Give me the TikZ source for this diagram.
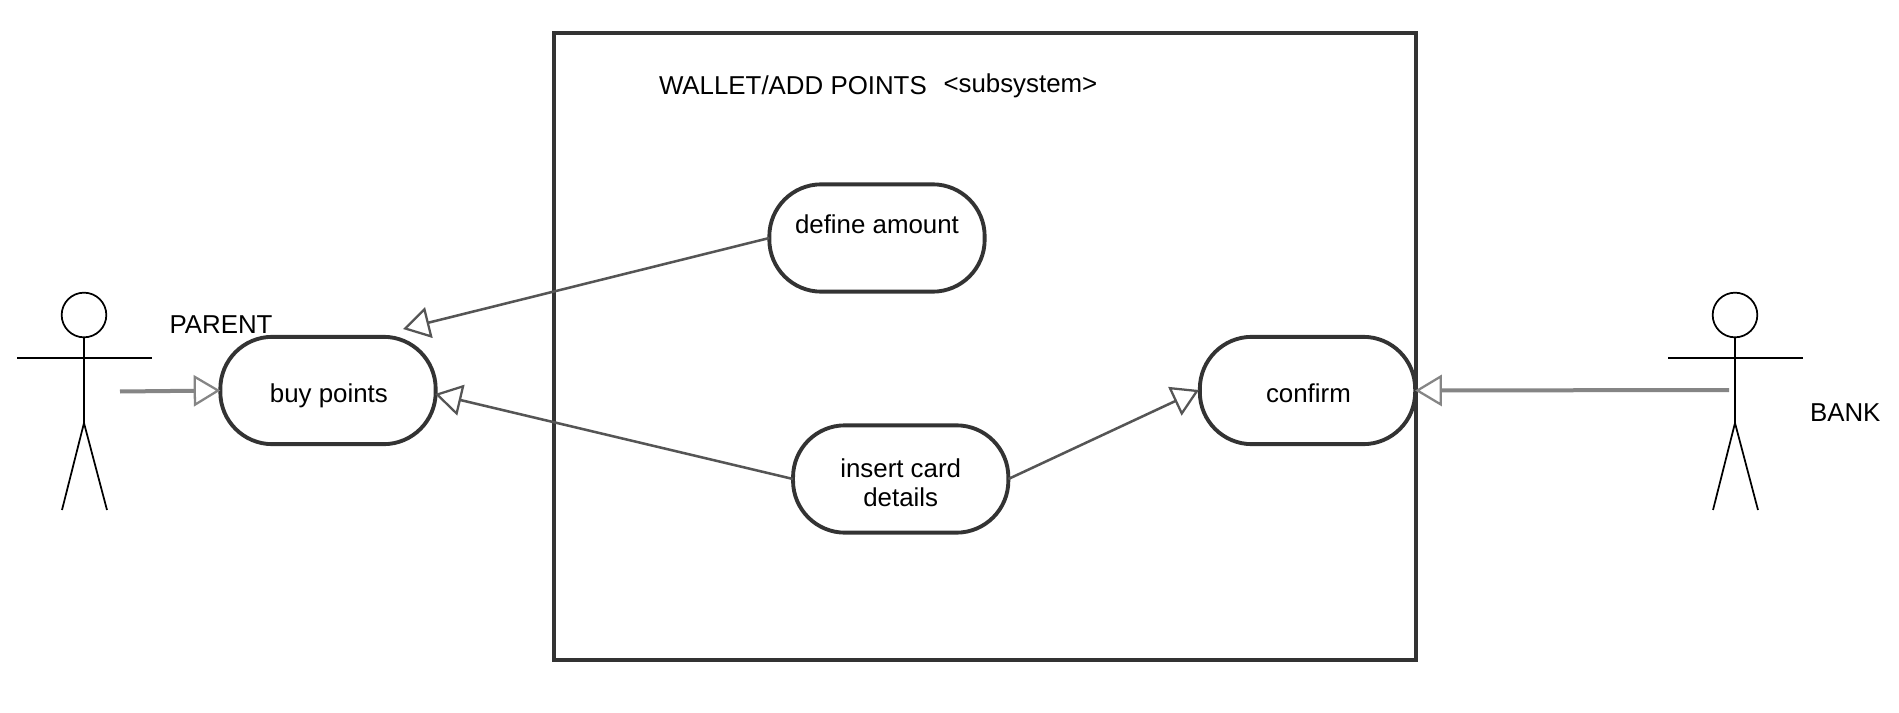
\documentclass[tikz,border=0pt]{standalone}
\usepackage{fontspec}
\setmainfont{Liberation Sans}
\usetikzlibrary{arrows.meta}
\definecolor{edge}{HTML}{333333}
\definecolor{thinline}{HTML}{555555}
\definecolor{thickline}{HTML}{858585}
\newcommand{\lifted}[2]{\raisebox{#1}[0pt][0pt]{\hspace*{1.4pt}#2}}
\tikzset{
  x=0.75pt,y=-0.75pt,
  txt/.style={font=\fontsize{19.4pt}{22pt}\selectfont,inner sep=0pt,outer sep=0pt,text=black},
  usecase/.style={txt,draw=edge,fill=white,line width=2.9pt,rounded corners=39pt,
    minimum width=161.5pt,minimum height=80.5pt,align=center},
  frame/.style={draw=edge,line width=2.9pt,inner sep=0pt,outer sep=0pt,
    minimum width=646.5pt,minimum height=470pt},
  actorline/.style={draw=black,line width=1.3pt},
  gen/.style={-{Triangle[open,fill=white,length=20pt,width=23.5pt,line width=1.7pt]},
    draw=thinline,line width=1.9pt},
  genthick/.style={gen,draw=thickline,line width=3pt},
  caption/.style={txt,anchor=base west}
}
\begin{document}
\begin{tikzpicture}
\useasboundingbox[fill=white] (0,0) rectangle (1899,713);
% system boundary
\node[frame] (sys) at (985,346.5) {};
\node[caption] (title) at (659,95) {WALLET/ADD POINTS};
\node[caption] (stereo) at (943.5,92.2) {<subsystem>};
% use cases
\node[usecase] (buy) at (328,390.5) {\lifted{-8.7pt}{buy points}};
\node[usecase] (define) at (877,238) {\raisebox{3.7pt}[0pt][0pt]{define amount}};
\node[usecase] (insert) at (900.7,479) {\rule{0pt}{19.4pt}insert card\\details};
\node[usecase] (confirm) at (1307.5,390.5) {\lifted{-9.2pt}{confirm}};
% actors
\node[draw=black,line width=1.3pt,circle,minimum size=33.5pt,inner sep=0pt,outer sep=0pt] (lefthead) at (84,315) {};
\coordinate (lefthip) at (84,423);
\draw[actorline] (lefthead.south) -- (lefthip);
\coordinate (leftarmA) at (17,358);
\coordinate (leftarmB) at (152,358);
\draw[actorline] (leftarmA) -- (leftarmB);
\coordinate (leftfootA) at (62,510);
\coordinate (leftfootB) at (107,510);
\draw[actorline] (leftfootA) -- (lefthip) -- (leftfootB);
\node[draw=black,line width=1.3pt,circle,minimum size=33.5pt,inner sep=0pt,outer sep=0pt] (righthead) at (1735,315) {};
\coordinate (righthip) at (1735,423);
\draw[actorline] (righthead.south) -- (righthip);
\coordinate (rightarmA) at (1668,358);
\coordinate (rightarmB) at (1803,358);
\draw[actorline] (rightarmA) -- (rightarmB);
\coordinate (rightfootA) at (1713,510);
\coordinate (rightfootB) at (1758,510);
\draw[actorline] (rightfootA) -- (righthip) -- (rightfootB);
\node[caption] (parent) at (169.5,333) {PARENT};
\node[caption] (bank) at (1810,421.7) {BANK};
% connectors
\coordinate (parentfrom) at (120,391.5);
\coordinate (bankfrom) at (1729,390);
\coordinate (buytop) at (403,329);
\coordinate (buyside) at (435,394);
\coordinate (confirmside) at (1199,390);
\draw[genthick] (parentfrom) -- (buy.west);
\draw[genthick] (bankfrom) -- (confirm.east);
\draw[gen] (define.west) -- (buytop);
\draw[gen] (insert.west) -- (buyside);
\draw[gen] (insert.east) -- (confirmside);
\end{tikzpicture}
\end{document}
